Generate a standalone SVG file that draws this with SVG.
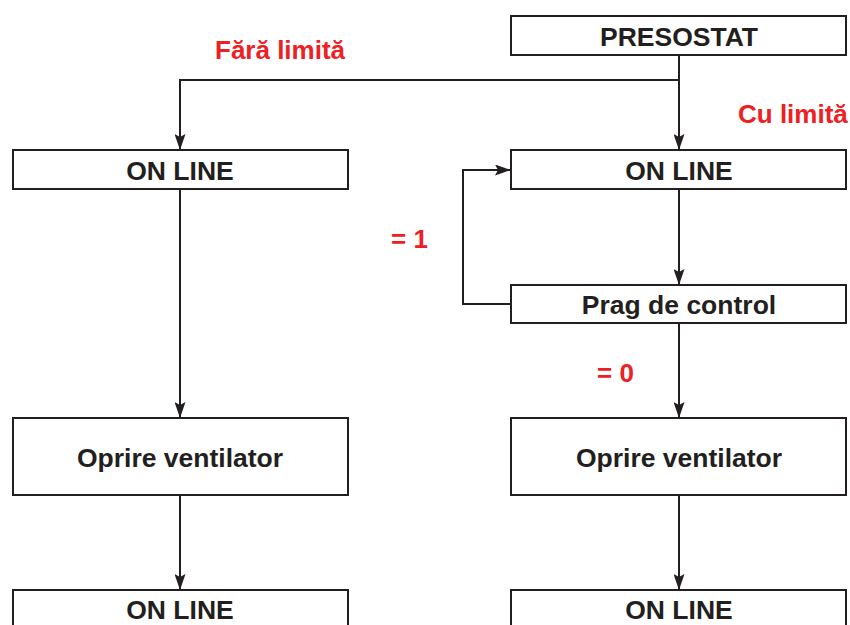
<svg xmlns="http://www.w3.org/2000/svg" width="850" height="625" viewBox="0 0 850 625">
<style>
.box{fill:#fff;stroke:#231f20;stroke-width:2}
.t{font-family:"Liberation Sans",Arial,sans-serif;font-weight:bold;font-size:26.5px;fill:#231f20;text-anchor:middle}
.r{font-family:"Liberation Sans",Arial,sans-serif;font-weight:bold;font-size:26px;fill:#ed2024}
.c{fill:none;stroke:#231f20;stroke-width:2}
</style>
<defs>
<marker id="a" viewBox="0 0 16 11" refX="16" refY="5.5" markerWidth="16" markerHeight="11" markerUnits="userSpaceOnUse" orient="auto">
<path d="M0,0 L16,5.5 L0,11 L3,5.5 Z" fill="#231f20"/>
</marker>
</defs>
<rect width="850" height="625" fill="#fff"/>
<g id="connectors">
<path class="c" d="M679,55 V150" marker-end="url(#a)"/>
<path class="c" d="M679,80 H180 V150" marker-end="url(#a)"/>
<path class="c" d="M180,189 V418" marker-end="url(#a)"/>
<path class="c" d="M180,495 V590" marker-end="url(#a)"/>
<path class="c" d="M679,189 V285" marker-end="url(#a)"/>
<path class="c" d="M511,304 H463 V170 H511" marker-end="url(#a)"/>
<path class="c" d="M679,323 V418" marker-end="url(#a)"/>
<path class="c" d="M679,495 V590" marker-end="url(#a)"/>
</g>
<g id="labels">
<text class="r" x="215" y="59">Fără limită</text>
<text class="r" x="738" y="123">Cu limită</text>
<text class="r" x="391" y="248">= 1</text>
<text class="r" x="597" y="382">= 0</text>
</g>
<g id="presostat"><rect class="box" x="511" y="16" width="335" height="39"/><text class="t" x="679" y="46">PRESOSTAT</text></g>
<g id="online-left"><rect class="box" x="13" y="150" width="335" height="39"/><text class="t" x="180" y="180">ON LINE</text></g>
<g id="online-right"><rect class="box" x="511" y="150" width="335" height="39"/><text class="t" x="679" y="180">ON LINE</text></g>
<g id="prag"><rect class="box" x="511" y="285" width="335" height="38"/><text class="t" x="679" y="314">Prag de control</text></g>
<g id="oprire-left"><rect class="box" x="13" y="418" width="335" height="77"/><text class="t" x="180" y="467">Oprire ventilator</text></g>
<g id="oprire-right"><rect class="box" x="511" y="418" width="335" height="77"/><text class="t" x="679" y="467">Oprire ventilator</text></g>
<g id="online-bottom-left"><rect class="box" x="13" y="590" width="335" height="45"/><text class="t" x="180" y="619">ON LINE</text></g>
<g id="online-bottom-right"><rect class="box" x="511" y="590" width="335" height="45"/><text class="t" x="679" y="619">ON LINE</text></g>
</svg>
